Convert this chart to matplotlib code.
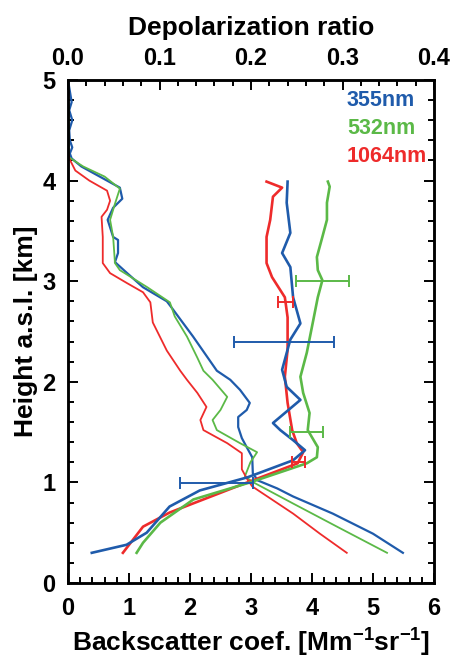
import matplotlib
matplotlib.use("Agg")
import matplotlib.pyplot as plt
from matplotlib.ticker import MultipleLocator, FormatStrFormatter

plt.rcParams['font.family'] = ['Liberation Sans', 'DejaVu Sans']
plt.rcParams['font.weight'] = 'bold'
plt.rcParams['mathtext.default'] = 'regular'

BLUE = '#1f5bab'
GREEN = '#5bb947'
RED = '#ee2b2b'

# backscatter profiles (height km, backscatter Mm-1 sr-1)
h_bs_355 = [5.0, 4.78, 4.7, 4.6, 4.5, 4.4, 4.33, 4.27, 4.22, 4.14, 4.04, 3.93, 3.82, 3.73,
            3.61, 3.44, 3.41, 3.28, 3.19, 3.08, 2.94, 2.80, 2.72, 2.45, 2.11, 2.02, 1.92,
            1.79, 1.72, 1.65, 1.55, 1.44, 1.35, 1.25, 1.09, 1.02, 0.94, 0.86, 0.69, 0.49,
            0.30]
bs_355 = [0.0, 0.06, 0.02, 0.07, 0.02, 0.03, 0.07, 0.03, 0.06, 0.22, 0.52, 0.85, 0.89, 0.74,
          0.65, 0.74, 0.82, 0.82, 0.77, 0.97, 1.23, 1.62, 1.72, 2.05, 2.44, 2.66, 2.82,
          2.98, 2.93, 2.79, 2.79, 2.85, 2.93, 3.02, 3.03, 3.11, 3.43, 3.69, 4.34, 5.00,
          5.49]

h_bs_532 = [5.0, 4.6, 4.3, 4.23, 4.14, 4.04, 3.92, 3.77, 3.61, 3.44, 3.18, 3.11, 2.94, 2.79,
            2.65, 2.45, 2.24, 2.11, 2.02, 1.85, 1.72, 1.62, 1.52, 1.39, 1.30, 1.20, 1.06,
            1.00, 0.79, 0.56, 0.30]
bs_532 = [0.0, 0.01, 0.01, 0.02, 0.25, 0.60, 0.85, 0.77, 0.69, 0.74, 0.77, 0.85, 1.30, 1.67,
          1.75, 1.95, 2.12, 2.22, 2.37, 2.61, 2.50, 2.37, 2.44, 2.82, 3.10, 2.99, 2.90,
          3.04, 3.69, 4.41, 5.23]

h_bs_1064 = [5.0, 4.3, 4.22, 4.10, 4.0, 3.90, 3.80, 3.71, 3.64, 3.44, 3.18, 3.08, 2.98, 2.89,
             2.79, 2.59, 2.31, 2.11, 2.02, 1.89, 1.75, 1.62, 1.52, 1.39, 1.29, 1.13, 1.03,
             0.96, 0.69, 0.49, 0.30]
bs_1064 = [0.0, 0.0, 0.02, 0.12, 0.35, 0.64, 0.69, 0.64, 0.55, 0.57, 0.57, 0.69, 0.97, 1.23,
           1.35, 1.39, 1.62, 1.84, 1.95, 2.12, 2.27, 2.17, 2.22, 2.61, 2.85, 2.85, 2.94,
           3.02, 3.69, 4.13, 4.57]

# depolarization ratio profiles
h_dr_355 = [3.99, 3.78, 3.48, 3.28, 3.14, 2.84, 2.58, 2.42, 2.12, 1.95, 1.82, 1.59, 1.52,
            1.42, 1.32, 1.22, 1.05, 0.92, 0.76, 0.50, 0.38, 0.30]
dr_355 = [0.240, 0.239, 0.243, 0.234, 0.243, 0.246, 0.254, 0.243, 0.234, 0.239, 0.254, 0.224,
          0.232, 0.246, 0.259, 0.246, 0.196, 0.144, 0.111, 0.086, 0.064, 0.026]

h_dr_532 = [3.99, 3.94, 3.78, 3.61, 3.44, 3.24, 3.11, 3.01, 2.84, 2.61, 2.29, 2.05, 1.89,
            1.69, 1.52, 1.35, 1.25, 1.19, 1.00, 0.83, 0.60, 0.40, 0.30]
dr_532 = [0.284, 0.286, 0.283, 0.283, 0.278, 0.272, 0.273, 0.278, 0.273, 0.268, 0.261, 0.254,
          0.257, 0.264, 0.262, 0.273, 0.272, 0.261, 0.199, 0.137, 0.101, 0.082, 0.075]

h_dr_1064 = [3.99, 3.93, 3.84, 3.61, 3.44, 3.18, 3.04, 2.84, 2.64, 2.32, 2.05, 1.79, 1.52,
             1.39, 1.30, 1.19, 1.00, 0.70, 0.56, 0.30]
dr_1064 = [0.217, 0.234, 0.224, 0.221, 0.217, 0.217, 0.223, 0.237, 0.240, 0.240, 0.237, 0.240,
           0.245, 0.250, 0.257, 0.251, 0.196, 0.111, 0.082, 0.060]

# error bars on depolarization (center, height, half width)
err_355 = ([0.236, 0.162], [2.40, 0.99], [0.055, 0.040])
err_532 = ([0.278, 0.261], [3.00, 1.50], [0.029, 0.018])
err_1064 = ([0.238, 0.252], [2.79, 1.20], [0.008, 0.007])

labels = ['355nm', '532nm', '1064nm']

fig = plt.figure(figsize=(4.56, 6.60), dpi=100)
ax = fig.add_axes([68 / 456, 77 / 660, 366 / 456, 503 / 660])
ax2 = ax.twiny()

ax.plot(bs_355, h_bs_355, color=BLUE, lw=1.6)
ax.plot(bs_532, h_bs_532, color=GREEN, lw=1.3)
ax.plot(bs_1064, h_bs_1064, color=RED, lw=1.3)

ax2.plot(dr_1064, h_dr_1064, color=RED, lw=1.9)
ax2.plot(dr_355, h_dr_355, color=BLUE, lw=1.9)
ax2.plot(dr_532, h_dr_532, color=GREEN, lw=1.9)

for err, col in [(err_355, BLUE), (err_532, GREEN), (err_1064, RED)]:
    ax2.errorbar(err[0], err[1], xerr=err[2], fmt='none', ecolor=col,
                 elinewidth=1.4, capsize=4, capthick=1.4)

ax.set_xlim(0, 6)
ax.set_ylim(0, 5)
ax2.set_xlim(0, 0.4)

ax.xaxis.set_major_locator(MultipleLocator(1))
ax.xaxis.set_minor_locator(MultipleLocator(0.2))
ax.yaxis.set_major_locator(MultipleLocator(1))
ax.yaxis.set_minor_locator(MultipleLocator(0.2))
ax2.xaxis.set_major_locator(MultipleLocator(0.1))
ax2.xaxis.set_minor_locator(MultipleLocator(0.02))
ax2.xaxis.set_major_formatter(FormatStrFormatter('%.1f'))

ax.tick_params(which='both', direction='in', right=True, width=1.4, labelsize=17)
ax.tick_params(axis='x', pad=10)
ax.tick_params(axis='y', pad=9)
ax.tick_params(which='major', length=7)
ax.tick_params(which='minor', length=4)
ax2.tick_params(which='both', direction='in', width=1.4, labelsize=17, pad=7)
ax2.tick_params(which='major', length=7)
ax2.tick_params(which='minor', length=4)

for a in (ax, ax2):
    for s in a.spines.values():
        s.set_linewidth(1.8)

ax.set_xlabel('Backscatter coef. [Mm$^{-1}$sr$^{-1}$]', fontsize=19, fontweight='bold', labelpad=5)
ax.set_ylabel('Height a.s.l. [km]', fontsize=19, fontweight='bold', labelpad=3)
ax2.set_xlabel('Depolarization ratio', fontsize=19, fontweight='bold', labelpad=9)

for i, (lab, col) in enumerate(zip(labels, [BLUE, GREEN, RED])):
    ax.text(0.762, 0.96 - i * 0.056, lab, color=col, fontsize=15.5, fontweight='bold',
            transform=ax.transAxes, ha='left', va='center')

fig.savefig('out.png', dpi=100)
